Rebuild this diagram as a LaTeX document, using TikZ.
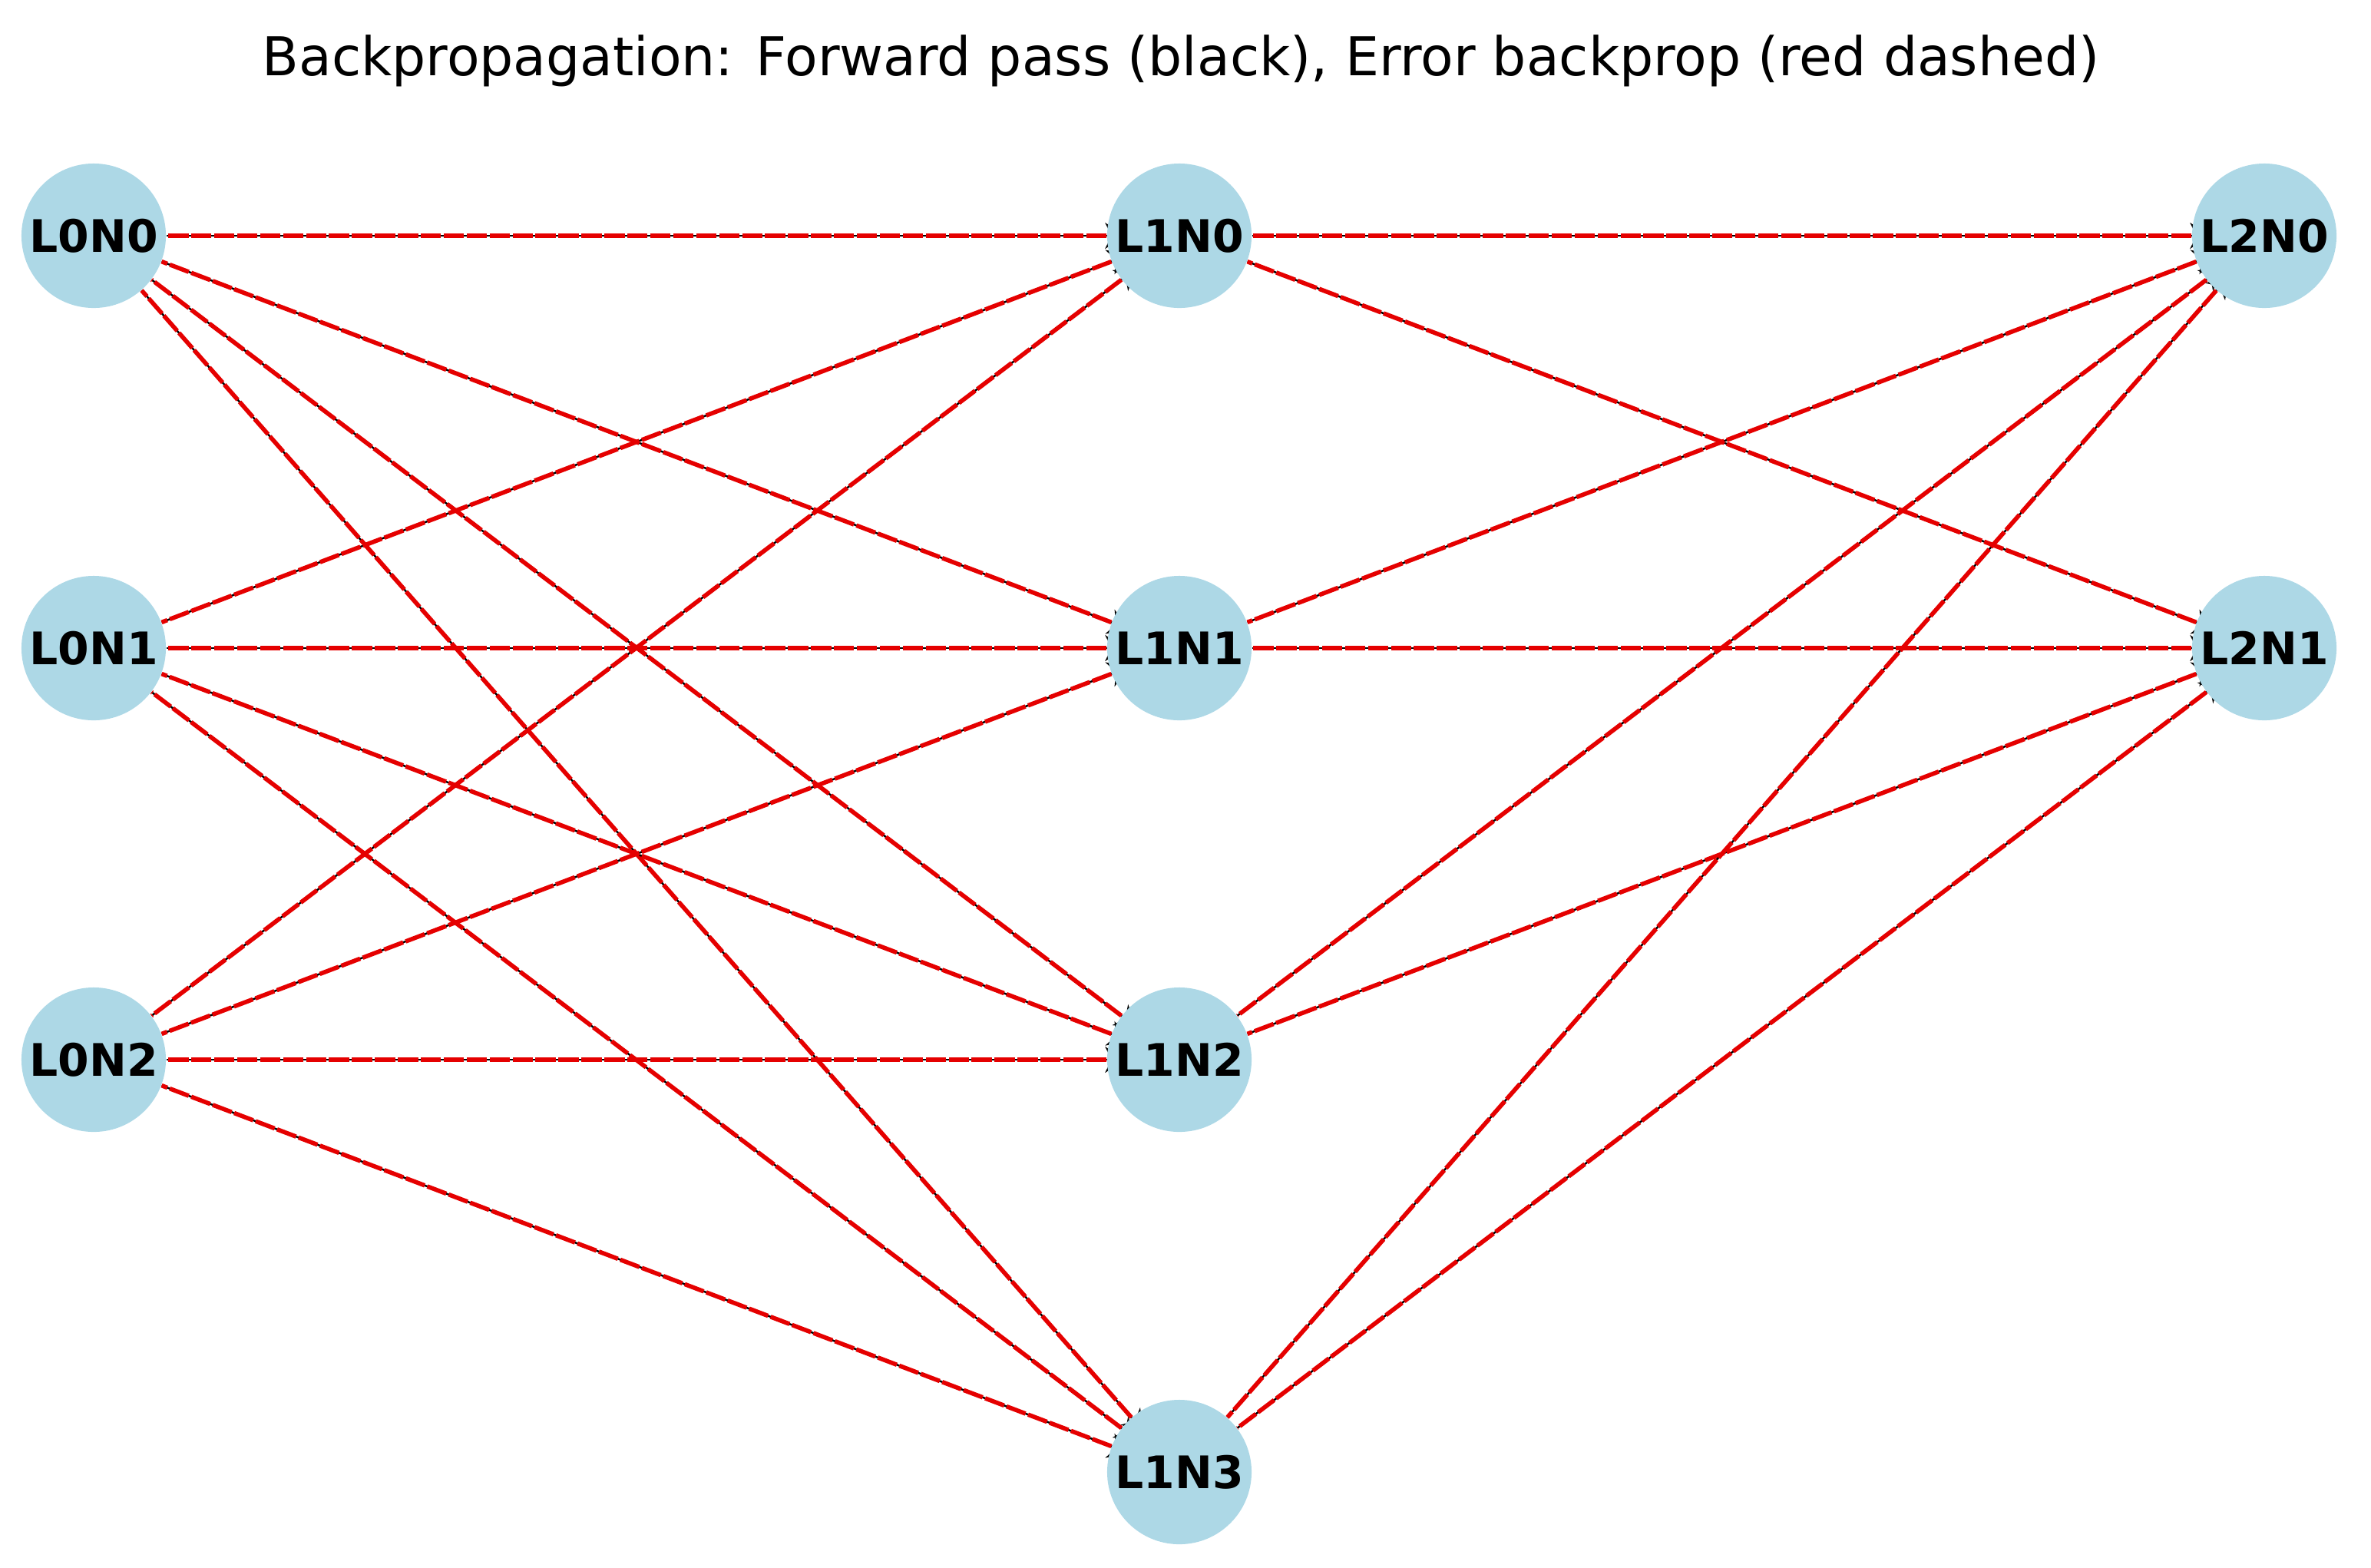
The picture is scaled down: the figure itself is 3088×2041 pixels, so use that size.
\documentclass[tikz,border=0pt]{standalone}
\usepackage{fontspec}
\setmainfont{DejaVu Sans}
\usetikzlibrary{arrows.meta,backgrounds}
\definecolor{lightblue}{HTML}{ADD8E6}

\begin{document}
\begin{tikzpicture}[x=0.01cm,y=-0.01cm,
	neuron/.style={circle,fill=lightblue,minimum size=1.88cm,inner sep=0pt,font=\fontsize{16.6}{18}\selectfont\bfseries},
	fwd/.style={black,line width=0.7pt,-{Stealth[length=0.26cm,width=0.34cm]},shorten >=-0.24cm},
	bwd/.style={red!90!black,line width=1.6pt,dash pattern=on 7.5pt off 1pt}]
	\useasboundingbox (0,0) rectangle (3088,2041);
	\node (title) at (1538,79) {\fontsize{19.8}{24}\selectfont Backpropagation: Forward pass (black), Error backprop (red dashed)};
	% input layer
	\node[neuron] (L0N0) at (122,307) {L0N0};
	\node[neuron] (L0N1) at (122,844) {L0N1};
	\node[neuron] (L0N2) at (122,1380) {L0N2};
	% hidden layer
	\node[neuron] (L1N0) at (1536,307) {L1N0};
	\node[neuron] (L1N1) at (1536,844) {L1N1};
	\node[neuron] (L1N2) at (1536,1380) {L1N2};
	\node[neuron] (L1N3) at (1536,1917) {L1N3};
	% output layer
	\node[neuron] (L2N0) at (2949,307) {L2N0};
	\node[neuron] (L2N1) at (2949,844) {L2N1};
	\begin{scope}[on background layer]
		\foreach \a in {0,1,2} \foreach \b in {0,...,3} {
			\draw[fwd] (L0N\a) -- (L1N\b);
			\draw[bwd] (L1N\b) -- (L0N\a);
		}
		\foreach \a in {0,...,3} \foreach \b in {0,1} {
			\draw[fwd] (L1N\a) -- (L2N\b);
			\draw[bwd] (L2N\b) -- (L1N\a);
		}
	\end{scope}
\end{tikzpicture}
\end{document}
